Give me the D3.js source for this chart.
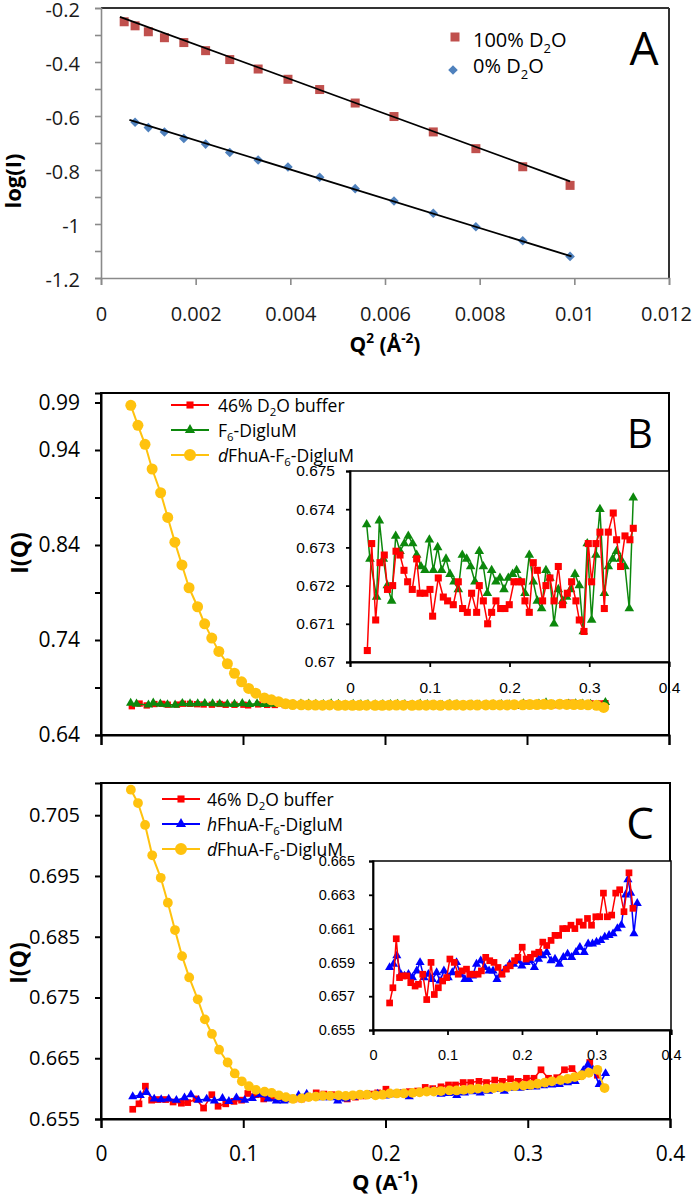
<!DOCTYPE html>
<html><head><meta charset="utf-8">
<script src="https://cdn.jsdelivr.net/npm/d3@7"></script>
<style>body{margin:0;background:#fff}svg{display:block}</style>
</head><body>
<svg id="chart" width="693" height="1195"></svg>
<script>
// ---------------- Panel A data ----------------
const aQ2Square = [0.00049,0.00072,0.00100,0.00134,0.00175,0.00221,0.00272,0.00332,0.00395,0.00462,0.00537,0.00619,0.00702,0.00792,0.00891,0.00991];
const aLogSquare = [-0.251,-0.266,-0.288,-0.310,-0.328,-0.358,-0.391,-0.426,-0.464,-0.502,-0.552,-0.602,-0.659,-0.721,-0.788,-0.857];
const aQ2Diamond = [0.00072,0.00100,0.00134,0.00175,0.00221,0.00272,0.00332,0.00395,0.00462,0.00537,0.00619,0.00702,0.00792,0.00891,0.00991];
const aLogDiamond = [-0.623,-0.643,-0.659,-0.683,-0.704,-0.735,-0.763,-0.789,-0.827,-0.869,-0.915,-0.960,-1.010,-1.062,-1.120];
const aFitSquare = [[0.00040,-0.233],[0.00991,-0.842]];
const aFitDiamond = [[0.00060,-0.614],[0.00994,-1.120]];
const aXTicks = [0,0.002,0.004,0.006,0.008,0.010,0.012];
const aYTicks = [-1.2,-1.1,-1.0,-0.9,-0.8,-0.7,-0.6,-0.5,-0.4,-0.3,-0.2];
const aYLabels = [-1.2,-1.0,-0.8,-0.6,-0.4,-0.2];

// ---------------- Shared Q grid for the dFhuA curves ----------------
const qGrid = [0.021,0.026,0.031,0.036,0.042,0.047,0.052,0.057,0.062,0.068,0.073,0.078,0.083,0.089,0.094,0.099,0.104,0.109,0.115,0.120,0.125,0.130,0.135,0.141,0.146,0.151,0.156,0.161,0.167,0.172,0.177,0.182,0.187,0.193,0.198,0.203,0.208,0.213,0.219,0.224,0.229,0.234,0.239,0.245,0.250,0.255,0.260,0.265,0.271,0.276,0.281,0.286,0.291,0.297,0.302,0.307,0.312,0.317,0.323,0.328,0.333,0.338,0.343,0.349,0.354];

// ---------------- Panel B data ----------------
const bYellow = [0.987,0.966,0.946,0.920,0.895,0.869,0.843,0.819,0.795,0.775,0.757,0.742,0.728,0.715,0.705,0.696,0.689,0.684,0.679,0.677,0.675,0.673,0.672,0.6718,0.6716,0.6715,0.6714,0.6716,0.6713,0.6714,0.6712,0.6713,0.6714,0.6712,0.6713,0.6714,0.6715,0.6714,0.6713,0.6715,0.6714,0.6716,0.6713,0.6715,0.6716,0.6714,0.6717,0.6715,0.6716,0.6718,0.6717,0.6716,0.6719,0.6718,0.6720,0.6721,0.6723,0.6722,0.6724,0.6722,0.6721,0.6720,0.6718,0.6712,0.6690];
const bRedQ = [0.0217,0.0272,0.0322,0.0376,0.043,0.047,0.0535,0.0577,0.0627,0.0677,0.0723,0.0781,0.0836,0.0878,0.094,0.1003,0.1036,0.1107,0.117,0.1224,0.1295,0.1358,0.1412,0.1471,0.1525,0.1588,0.1621,0.1672,0.1726,0.1776,0.183,0.1889,0.1943,0.1997,0.2056,0.211,0.2152,0.2194,0.2248,0.2298,0.2349,0.2415,0.2457,0.2507,0.2558,0.2612,0.2666,0.2725,0.2779,0.2833,0.2875,0.2934,0.2988,0.303,0.3084,0.3134,0.3189,0.3239,0.3301,0.3343,0.3393,0.3448,0.351,0.3552];
const bRedI = [0.6703,0.6731,0.6711,0.6726,0.6728,0.6719,0.6720,0.6729,0.6728,0.6724,0.6721,0.6719,0.6727,0.6718,0.6718,0.6719,0.6712,0.6722,0.6717,0.6716,0.6715,0.6721,0.6714,0.6713,0.6718,0.6713,0.6720,0.6716,0.6710,0.6713,0.6716,0.6714,0.6714,0.6715,0.6721,0.6721,0.6721,0.6716,0.6713,0.6726,0.6724,0.6716,0.6720,0.6722,0.6716,0.6725,0.6715,0.6718,0.6721,0.6716,0.6711,0.6708,0.6731,0.6721,0.6731,0.6734,0.6714,0.6734,0.6739,0.6732,0.6725,0.6733,0.6732,0.6735];
const bGreenQ = [0.0209,0.025,0.0334,0.0368,0.0418,0.0468,0.0522,0.0573,0.0627,0.0681,0.0731,0.0786,0.0836,0.089,0.094,0.0995,0.1045,0.1099,0.1149,0.1204,0.1254,0.1304,0.1358,0.1408,0.1463,0.1513,0.1567,0.1621,0.1672,0.1722,0.1776,0.183,0.188,0.1931,0.1985,0.2039,0.2089,0.214,0.2194,0.2248,0.2298,0.2349,0.2403,0.2457,0.2507,0.2558,0.2612,0.2666,0.2716,0.2766,0.2821,0.2875,0.2925,0.2975,0.303,0.3084,0.3134,0.3189,0.3239,0.3293,0.3343,0.3393,0.3448,0.3502,0.3552];
const bGreenI = [0.6736,0.6727,0.6717,0.6737,0.6727,0.6720,0.6716,0.6733,0.6729,0.6731,0.6733,0.6731,0.6728,0.6725,0.6724,0.6732,0.6724,0.6730,0.6724,0.6727,0.6723,0.6721,0.6719,0.6728,0.6727,0.6725,0.6721,0.6729,0.6725,0.6718,0.6724,0.6721,0.6722,0.6719,0.6722,0.6723,0.6724,0.6721,0.6718,0.6728,0.6721,0.6716,0.6714,0.6724,0.6722,0.6710,0.6719,0.6716,0.6717,0.6719,0.6723,0.6720,0.6708,0.6731,0.6711,0.6728,0.6740,0.6718,0.6725,0.6727,0.6729,0.6727,0.6725,0.6714,0.6743];
const bYTicks = [0.64,0.69,0.74,0.79,0.84,0.89,0.94,0.99];
const bYLabels = [0.64,0.74,0.84,0.94,0.99];
const qTicks = [0,0.1,0.2,0.3,0.4];
const bInsetYTicks = [0.670,0.671,0.672,0.673,0.674,0.675];

// ---------------- Panel C data ----------------
const cYellow = [0.7092,0.7070,0.7034,0.6984,0.6947,0.6906,0.6861,0.6818,0.6783,0.6747,0.6714,0.6690,0.6664,0.6643,0.6625,0.6612,0.6604,0.6598,0.6595,0.6593,0.6589,0.6586,0.6583,0.6584,0.6586,0.6587,0.6588,0.6588,0.6589,0.6588,0.6589,0.6590,0.6590,0.6589,0.6590,0.6592,0.6592,0.6592,0.6593,0.6594,0.6595,0.6595,0.6596,0.6597,0.6597,0.6598,0.6599,0.6600,0.6600,0.6601,0.6602,0.6603,0.6604,0.6605,0.6606,0.6608,0.6610,0.6612,0.6614,0.6616,0.6619,0.6622,0.6626,0.6631,0.6601];
const cRedQ = [0.0223,0.0267,0.0312,0.0356,0.0401,0.0454,0.0507,0.0565,0.061,0.0668,0.0721,0.0779,0.0823,0.0877,0.0935,0.0988,0.1032,0.109,0.1144,0.1197,0.1255,0.1299,0.1357,0.1411,0.1455,0.1513,0.1567,0.1624,0.1678,0.1731,0.1789,0.1842,0.19,0.1945,0.2003,0.2056,0.2114,0.2167,0.2225,0.2279,0.2332,0.239,0.2443,0.2492,0.2546,0.2599,0.2657,0.271,0.2768,0.2822,0.2879,0.2933,0.2991,0.3044,0.3093,0.3146,0.3204,0.3258,0.3311,0.3369,0.3436,0.3489];
const cRedI = [0.6566,0.6575,0.6604,0.6581,0.6582,0.6582,0.6578,0.6576,0.6577,0.6583,0.6568,0.6590,0.6571,0.6575,0.6579,0.6581,0.6592,0.6590,0.6583,0.6585,0.6586,0.6583,0.6583,0.6583,0.6585,0.6593,0.6591,0.6590,0.6587,0.6583,0.6586,0.6588,0.6591,0.6593,0.6599,0.6592,0.6593,0.6595,0.6596,0.6602,0.6600,0.6603,0.6606,0.6606,0.6610,0.6610,0.6612,0.6610,0.6614,0.6612,0.6616,0.6612,0.6617,0.6617,0.6631,0.6617,0.6618,0.6631,0.6633,0.6620,0.6643,0.6622];
const cBlueQ = [0.0223,0.0276,0.032,0.0374,0.0423,0.0476,0.053,0.0587,0.0632,0.0685,0.0743,0.0797,0.0854,0.0899,0.0952,0.101,0.1064,0.1121,0.1175,0.1233,0.1286,0.1335,0.1389,0.1446,0.15,0.1558,0.1611,0.1664,0.1722,0.1776,0.1834,0.1887,0.1945,0.1998,0.2056,0.2109,0.2167,0.2221,0.2279,0.2332,0.239,0.2443,0.2501,0.2555,0.2612,0.2666,0.2724,0.2777,0.2835,0.2888,0.2946,0.3,0.3057,0.3111,0.3169,0.3222,0.328,0.3333,0.3391,0.3422,0.3458,0.3502,0.3547];
const cBlueI = [0.6587,0.6589,0.6594,0.6583,0.6582,0.6583,0.6581,0.6585,0.6590,0.6581,0.6583,0.6580,0.6584,0.6579,0.6585,0.6581,0.6584,0.6590,0.6583,0.6580,0.6580,0.6582,0.6589,0.6591,0.6587,0.6585,0.6585,0.6580,0.6583,0.6586,0.6589,0.6589,0.6591,0.6588,0.6590,0.6591,0.6587,0.6592,0.6594,0.6596,0.6591,0.6592,0.6589,0.6593,0.6595,0.6593,0.6596,0.6599,0.6596,0.6601,0.6601,0.6602,0.6603,0.6605,0.6606,0.6607,0.6610,0.6612,0.6630,0.6639,0.6631,0.6607,0.6625];
const cYTicks = [0.655,0.665,0.675,0.685,0.695,0.705];
const cInsetYTicks = [0.655,0.657,0.659,0.661,0.663,0.665];

// ---------------- text ----------------
const legendB = [
  [{t:'46% D'},{t:'2',sub:1},{t:'O buffer'}],
  [{t:'F'},{t:'6',sub:1},{t:'-DigluM'}],
  [{t:'d',it:1},{t:'FhuA-F'},{t:'6',sub:1},{t:'-DigluM'}]
];
const legendC = [
  [{t:'46% D'},{t:'2',sub:1},{t:'O buffer'}],
  [{t:'h',it:1},{t:'FhuA-F'},{t:'6',sub:1},{t:'-DigluM'}],
  [{t:'d',it:1},{t:'FhuA-F'},{t:'6',sub:1},{t:'-DigluM'}]
];
const legendA = [
  [{t:'100% D'},{t:'2',sub:1},{t:'O'}],
  [{t:'0% D'},{t:'2',sub:1},{t:'O'}]
];

const COL = {red:'#FF0000', green:'#0C880C', yellow:'#FFC20E', blue:'#0000FF', aSq:'#C0504D', aDi:'#4F81BD'};
const FONT = "'Open Sans','Noto Sans',sans-serif";
const IFONT = "'Liberation Sans',Arial,sans-serif";

const svg = d3.select('#chart');
svg.append('rect').attr('width',693).attr('height',1195).attr('fill','#fff');

function rich(g, x, y, parts, size, opts={}) {
  const t = g.append('text').attr('x',x).attr('y',y).attr('font-family',FONT)
    .attr('font-size',size).attr('fill','#000');
  if (opts.bold) t.attr('font-weight','bold');
  if (opts.anchor) t.attr('text-anchor',opts.anchor);
  if (opts.transform) t.attr('transform',opts.transform);
  let shift = 0;
  parts.forEach(p => {
    const s = t.append('tspan').text(p.t);
    let target = 0;
    if (p.sub) { s.attr('font-size', size*0.65); target = size*0.28; }
    if (p.sup) { s.attr('font-size', size*0.65); target = -size*0.42; }
    if (p.it) s.attr('font-style','italic');
    if (target !== shift) { s.attr('dy', target - shift); shift = target; }
  });
  return t;
}
function drawSeries(g, xs, ys, q, v, o) {
  const pts = q.map((qq,i)=>[qq, v[i]]);
  if (o.line) g.append('path').attr('d', d3.line().x(d=>xs(d[0])).y(d=>ys(d[1]))(pts))
     .attr('fill','none').attr('stroke',o.color).attr('stroke-width',o.lw||1.5).attr('stroke-linejoin','round');
  const path = d3.symbol().type(o.type).size(o.size)();
  g.selectAll(null).data(pts).enter().append('path').attr('d',path)
    .attr('transform',d=>`translate(${xs(d[0])},${ys(d[1])})${o.rot?` rotate(${o.rot})`:''}`)
    .attr('fill',o.color);
}
function styleAxis(a, color, w, font, size) {
  a.select('.domain').attr('stroke',color).attr('stroke-width',w);
  a.selectAll('.tick line').attr('stroke',color).attr('stroke-width',w);
  a.selectAll('.tick text').attr('font-family',font).attr('font-size',size).attr('fill','#000');
}
const fmt = d => String(+d.toFixed(4));

// ================= Panel A =================
{
  const g = svg.append('g');
  const x = d3.scaleLinear().domain([0,0.012]).range([101,669]);
  const y = d3.scaleLinear().domain([-1.2,-0.2]).range([278,8]);
  g.append('line').attr('x1',101).attr('x2',669).attr('y1',8).attr('y2',8).attr('stroke','#333').attr('stroke-width',2);
  g.append('line').attr('x1',669).attr('x2',669).attr('y1',8).attr('y2',278).attr('stroke','#333').attr('stroke-width',2);
  const ay = g.append('g').attr('transform','translate(101,0)')
    .call(d3.axisLeft(y).tickValues(aYTicks).tickSize(6).tickPadding(15)
      .tickFormat(d => aYLabels.some(l=>Math.abs(l-d)<1e-9) ? fmt(d) : ''));
  styleAxis(ay,'#8a8a8a',1.6,FONT,20);
  ay.selectAll('.tick text').attr('dy','0.42em');
  const ax = g.append('g').attr('transform','translate(0,278)')
    .call(d3.axisBottom(x).tickValues(aXTicks).tickSize(7).tickPadding(22).tickFormat(fmt));
  styleAxis(ax,'#8a8a8a',1.6,FONT,20);
  ay.selectAll('.tick text').attr('fill','#1a1a1a');
  ax.selectAll('.tick text').attr('fill','#1a1a1a');
  ax.selectAll('.tick text').filter(d => d === 0.012).attr('dx', -3);

  const ln = d3.line().x(d=>x(d[0])).y(d=>y(d[1]));
  drawSeries(g,x,y,aQ2Square,aLogSquare,{type:d3.symbolSquare,size:81,color:COL.aSq});
  drawSeries(g,x,y,aQ2Diamond,aLogDiamond,{type:d3.symbolSquare,size:46,rot:45,color:COL.aDi});
  g.append('path').attr('d',ln(aFitSquare)).attr('stroke','#000').attr('stroke-width',1.8).attr('fill','none');
  g.append('path').attr('d',ln(aFitDiamond)).attr('stroke','#000').attr('stroke-width',1.8).attr('fill','none');

  // legend
  g.append('path').attr('d',d3.symbol().type(d3.symbolSquare).size(81)()).attr('transform','translate(455,37)').attr('fill',COL.aSq);
  g.append('path').attr('d',d3.symbol().type(d3.symbolSquare).size(46)()).attr('transform','translate(453,70) rotate(45)').attr('fill',COL.aDi);
  rich(g,473,47,legendA[0],20);
  rich(g,473,73,legendA[1],20);
  g.append('text').attr('x',644).attr('y',65).attr('text-anchor','middle').attr('font-family',FONT).attr('font-size',46).text('A');
  rich(g,0,0,[{t:'log(I)'}],22,{bold:1,anchor:'middle',transform:'translate(21,181) rotate(-90)'});
  rich(g,385,352,[{t:'Q'},{t:'2',sup:1},{t:' (Å'},{t:'-2',sup:1},{t:')'}],21,{bold:1,anchor:'middle'});
}

// ================= Panel B =================
{
  const g = svg.append('g');
  const x = d3.scaleLinear().domain([0,0.4]).range([101,669]);
  const y = d3.scaleLinear().domain([0.64,1.0]).range([735,393]);
  g.append('rect').attr('x',101).attr('y',393).attr('width',568).attr('height',342).attr('fill','none').attr('stroke','#000').attr('stroke-width',2);
  const ay = g.append('g').attr('transform','translate(101,0)')
    .call(d3.axisLeft(y).tickValues(bYTicks).tickSize(6).tickPadding(15)
      .tickFormat(d => bYLabels.some(l=>Math.abs(l-d)<1e-9) ? fmt(d) : ''));
  styleAxis(ay,'#000',2,FONT,21);
  const ax = g.append('g').attr('transform','translate(0,735)')
    .call(d3.axisBottom(x).tickValues(qTicks).tickSize(10).tickFormat(''));
  styleAxis(ax,'#000',2,FONT,20);

  drawSeries(g,x,y,bRedQ,bRedI,{line:1,type:d3.symbolSquare,size:40,color:COL.red,lw:1.4});
  drawSeries(g,x,y,bGreenQ,bGreenI,{line:1,type:d3.symbolTriangle,size:38,color:COL.green,lw:1.4});
  drawSeries(g,x,y,qGrid,bYellow,{line:1,type:d3.symbolCircle,size:95,color:COL.yellow,lw:2});

  // legend
  const rows = [405,430,455];
  const specs = [
    {type:d3.symbolSquare,size:50,color:COL.red},
    {type:d3.symbolTriangle,size:45,color:COL.green},
    {type:d3.symbolCircle,size:113,color:COL.yellow}];
  rows.forEach((ry,i)=>{
    g.append('line').attr('x1',171).attr('x2',209).attr('y1',ry).attr('y2',ry).attr('stroke',specs[i].color).attr('stroke-width',2);
    g.append('path').attr('d',d3.symbol().type(specs[i].type).size(specs[i].size)()).attr('transform',`translate(190,${ry})`).attr('fill',specs[i].color);
    rich(g,218,ry+6.5,legendB[i],17.5);
  });
  g.append('text').attr('x',640).attr('y',448).attr('text-anchor','middle').attr('font-family',FONT).attr('font-size',40).text('B');
  rich(g,0,0,[{t:'I(Q)'}],23,{bold:1,anchor:'middle',transform:'translate(28,553) rotate(-90)'});

  // inset
  const ix = d3.scaleLinear().domain([0,0.4]).range([350,669]);
  const iy = d3.scaleLinear().domain([0.670,0.675]).range([662,471]);
  g.append('rect').attr('x',350).attr('y',471).attr('width',319).attr('height',191).attr('fill','#fff').attr('stroke','#000').attr('stroke-width',1.5);
  const iay = g.append('g').attr('transform','translate(350,0)')
    .call(d3.axisLeft(iy).tickValues(bInsetYTicks).tickSize(4).tickPadding(11).tickFormat(fmt));
  styleAxis(iay,'#000',1.8,IFONT,15.5);
  const iax = g.append('g').attr('transform','translate(0,662)')
    .call(d3.axisBottom(ix).tickValues(qTicks).tickSize(5).tickPadding(15).tickFormat(fmt));
  styleAxis(iax,'#000',1.8,IFONT,15.5);
  drawSeries(g,ix,iy,bGreenQ,bGreenI,{line:1,type:d3.symbolTriangle,size:40,color:COL.green,lw:1.5});
  drawSeries(g,ix,iy,bRedQ,bRedI,{line:1,type:d3.symbolSquare,size:50,color:COL.red,lw:1.5});
}

// ================= Panel C =================
{
  const g = svg.append('g');
  const x = d3.scaleLinear().domain([0,0.4]).range([101,670]);
  const y = d3.scaleLinear().domain([0.655,0.7103]).range([1119,783]);
  g.append('rect').attr('x',101).attr('y',783).attr('width',569).attr('height',336).attr('fill','none').attr('stroke','#000').attr('stroke-width',2);
  const ay = g.append('g').attr('transform','translate(101,0)')
    .call(d3.axisLeft(y).tickValues(cYTicks).tickSize(6).tickPadding(15).tickFormat(fmt));
  styleAxis(ay,'#000',2,FONT,20);
  const ax = g.append('g').attr('transform','translate(0,1119)')
    .call(d3.axisBottom(x).tickValues(qTicks).tickSize(9).tickPadding(18).tickFormat(fmt));
  styleAxis(ax,'#000',2,FONT,21);

  drawSeries(g,x,y,cRedQ,cRedI,{line:1,type:d3.symbolSquare,size:45,color:COL.red,lw:1.5});
  drawSeries(g,x,y,cBlueQ,cBlueI,{line:1,type:d3.symbolTriangle,size:36,color:COL.blue,lw:1.5});
  drawSeries(g,x,y,qGrid,cYellow,{line:1,type:d3.symbolCircle,size:75,color:COL.yellow,lw:2});

  const rows = [799,824,849];
  const specs = [
    {type:d3.symbolSquare,size:50,color:COL.red},
    {type:d3.symbolTriangle,size:45,color:COL.blue},
    {type:d3.symbolCircle,size:113,color:COL.yellow}];
  rows.forEach((ry,i)=>{
    g.append('line').attr('x1',162).attr('x2',200).attr('y1',ry).attr('y2',ry).attr('stroke',specs[i].color).attr('stroke-width',2);
    g.append('path').attr('d',d3.symbol().type(specs[i].type).size(specs[i].size)()).attr('transform',`translate(181,${ry})`).attr('fill',specs[i].color);
    rich(g,207,ry+6.5,legendC[i],17.5);
  });
  g.append('text').attr('x',640).attr('y',839).attr('text-anchor','middle').attr('font-family',FONT).attr('font-size',44).text('C');
  rich(g,0,0,[{t:'I(Q)'}],23,{bold:1,anchor:'middle',transform:'translate(27,963) rotate(-90)'});
  rich(g,385,1190,[{t:'Q (A'},{t:'-1',sup:1},{t:')'}],22,{bold:1,anchor:'middle'});

  // inset
  const ix = d3.scaleLinear().domain([0,0.4]).range([373,671]);
  const iy = d3.scaleLinear().domain([0.655,0.665]).range([1030,861]);
  g.append('rect').attr('x',373).attr('y',861).attr('width',298).attr('height',169).attr('fill','#fff').attr('stroke','#000').attr('stroke-width',1.5);
  const iay = g.append('g').attr('transform','translate(373,0)')
    .call(d3.axisLeft(iy).tickValues(cInsetYTicks).tickSize(4).tickPadding(14).tickFormat(fmt));
  styleAxis(iay,'#000',1.8,IFONT,14.5);
  const iax = g.append('g').attr('transform','translate(0,1030)')
    .call(d3.axisBottom(ix).tickValues(qTicks).tickSize(5).tickPadding(15).tickFormat(fmt));
  styleAxis(iax,'#000',1.8,IFONT,14.5);
  drawSeries(g,ix,iy,cBlueQ,cBlueI,{line:1,type:d3.symbolTriangle,size:36,color:COL.blue,lw:1.5});
  drawSeries(g,ix,iy,cRedQ,cRedI,{line:1,type:d3.symbolSquare,size:45,color:COL.red,lw:1.5});
}
</script>
</body></html>
